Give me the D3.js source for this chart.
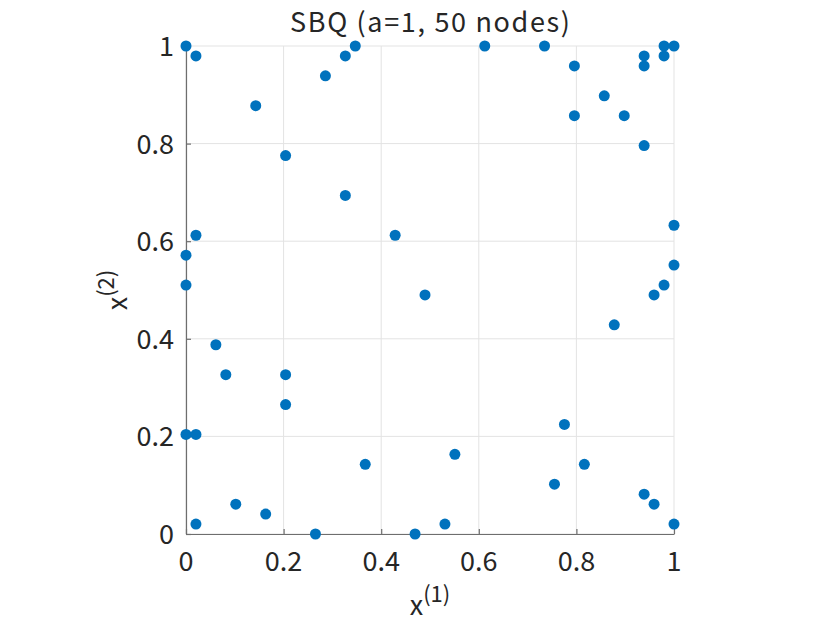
<!DOCTYPE html>
<html>
<head>
<meta charset="utf-8">
<script src="https://cdn.jsdelivr.net/npm/d3@7"></script>
<style>
  body { margin: 0; background: #fff; }
  svg text { font-family: "Noto Sans CJK JP", "Noto Sans", sans-serif; fill: #262626; }
</style>
</head>
<body>
<svg id="scatter"></svg>
<script>
// node coordinates
const nodeX = [0, 0.0204, 0.1429, 0.2857, 0.3265, 0.3469, 0.2041, 0.3265, 0.0204, 0.4286, 0, 0,
    0.6122, 0.7347, 0.7959, 0.7959, 0.8571, 0.898, 0.9388, 0.9388, 0.9388, 0.9796, 0.9796, 1, 1, 1, 0.9796,
    0.4898, 0.0612, 0.0816, 0.2041, 0.2041, 0, 0.0204, 0.3673, 0.102, 0.1633, 0.0204, 0.2653, 0.4694,
    0.9592, 0.8776, 0.7755, 0.551, 0.8163, 0.7551, 0.9388, 0.9592, 0.5306, 1];
const nodeY = [1, 0.9796, 0.8776, 0.9388, 0.9796, 1, 0.7755, 0.6939, 0.6122, 0.6122, 0.5714, 0.5102,
    1, 1, 0.9592, 0.8571, 0.898, 0.8571, 0.9796, 0.9592, 0.7959, 1, 0.9796, 1, 0.6327, 0.551, 0.5102,
    0.4898, 0.3878, 0.3265, 0.3265, 0.2653, 0.2041, 0.2041, 0.1429, 0.0612, 0.0408, 0.0204, 0, 0,
    0.4898, 0.4286, 0.2245, 0.1633, 0.1429, 0.102, 0.0816, 0.0612, 0.0204, 0.0204];
const tickVals = [0, 0.2, 0.4, 0.6, 0.8, 1];
const tickLabels = ["0", "0.2", "0.4", "0.6", "0.8", "1"];
const titleText = "SBQ (a=1, 50 nodes)";

const data = nodeX.map((x, i) => ({x: x, y: nodeY[i]}));

const width = 830, height = 623;
const margin = {top: 46, bottom: 89, left: 186, right: 156};

const svg = d3.select("#scatter")
    .attr("width", width)
    .attr("height", height);

const xScale = d3.scaleLinear()
    .domain([0, 1])
    .range([margin.left, width - margin.right]);

const yScale = d3.scaleLinear()
    .domain([0, 1])
    .range([height - margin.bottom, margin.top]);

// grid
const grid = svg.append("g");
grid.selectAll(".gx").data(tickVals).enter().append("line")
    .attr("x1", d => xScale(d)).attr("x2", d => xScale(d))
    .attr("y1", yScale(0)).attr("y2", yScale(1))
    .attr("stroke", "#e3e3e3").attr("stroke-width", 1);
grid.selectAll(".gy").data(tickVals).enter().append("line")
    .attr("y1", d => yScale(d)).attr("y2", d => yScale(d))
    .attr("x1", xScale(0)).attr("x2", xScale(1))
    .attr("stroke", "#e3e3e3").attr("stroke-width", 1);

// axes, ticks pointing inward
const xAxis = svg.append("g")
    .attr("transform", `translate(0,${yScale(0)})`)
    .call(d3.axisTop(xScale).tickValues(tickVals).tickSize(5).tickSizeOuter(0).tickFormat(""));
const yAxis = svg.append("g")
    .attr("transform", `translate(${xScale(0)},0)`)
    .call(d3.axisRight(yScale).tickValues(tickVals).tickSize(5).tickSizeOuter(0).tickFormat(""));
[xAxis, yAxis].forEach(g => {
    g.select(".domain").attr("stroke", "#6e6e6e").attr("stroke-width", 1.2);
    g.selectAll(".tick line").attr("stroke", "#6e6e6e").attr("stroke-width", 1.2);
});

// tick labels
svg.selectAll(".xlab").data(tickVals).enter().append("text")
    .attr("x", d => xScale(d))
    .attr("y", yScale(0) + 37)
    .attr("text-anchor", "middle")
    .attr("font-size", 27)
    .text((d, i) => tickLabels[i]);

svg.selectAll(".ylab").data(tickVals).enter().append("text")
    .attr("x", xScale(0) - 12)
    .attr("y", d => yScale(d) + 10)
    .attr("text-anchor", "end")
    .attr("font-size", 27)
    .text((d, i) => tickLabels[i]);

// points
svg.append("g").selectAll("circle").data(data).enter().append("circle")
    .attr("cx", d => xScale(d.x))
    .attr("cy", d => yScale(d.y))
    .attr("r", 5.5)
    .attr("fill", "#0072BD");

// title
svg.append("text")
    .attr("x", (xScale(0) + xScale(1)) / 2)
    .attr("y", 32)
    .attr("text-anchor", "middle")
    .attr("font-size", 27)
    .attr("textLength", 280)
    .attr("lengthAdjust", "spacing")
    .text(titleText);

// x label
const xl = svg.append("text")
    .attr("x", (xScale(0) + xScale(1)) / 2)
    .attr("y", 615)
    .attr("text-anchor", "middle")
    .attr("font-size", 27);
xl.append("tspan").text("x");
xl.append("tspan").attr("dy", -13).attr("font-size", 22).text("(1)");

// y label
const yl = svg.append("text")
    .attr("transform", `translate(127,${(yScale(0) + yScale(1)) / 2}) rotate(-90)`)
    .attr("text-anchor", "middle")
    .attr("font-size", 27);
yl.append("tspan").text("x");
yl.append("tspan").attr("dy", -13).attr("font-size", 22).text("(2)");
</script>
</body>
</html>
